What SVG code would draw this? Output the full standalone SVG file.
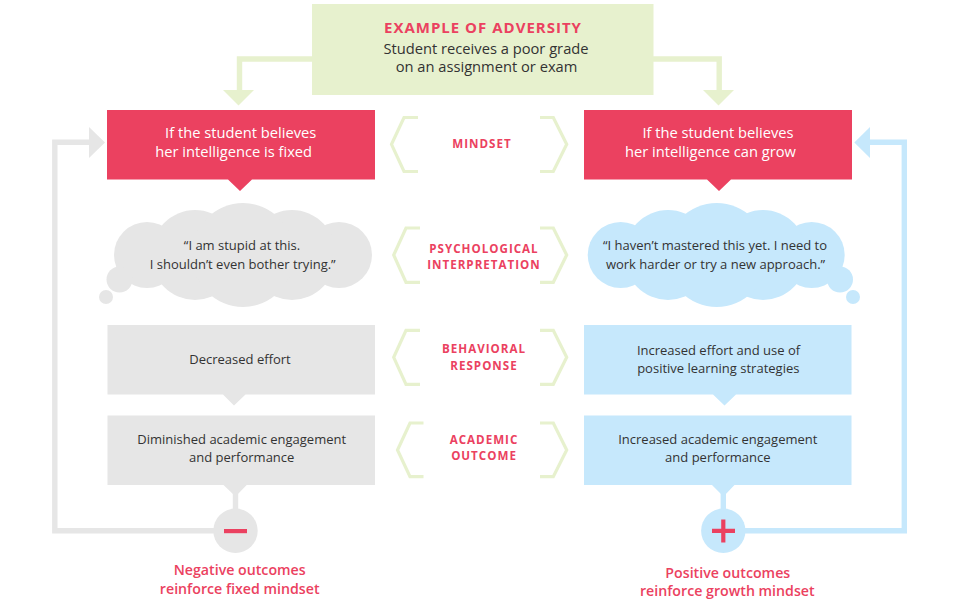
<svg xmlns="http://www.w3.org/2000/svg" width="960" height="600" viewBox="0 0 960 600">
<style>
text{font-family:"Open Sans","Noto Sans","Liberation Sans",sans-serif;text-anchor:middle;font-size:13px;fill:#333}
.h{font-size:14.700px;font-weight:500}
.w{fill:#fff;font-size:14.700px;font-weight:500}
.t{fill:#eb4160;font-size:15px;font-weight:700;letter-spacing:1px}
.l{fill:#eb4160;font-size:11.600px;font-weight:700;letter-spacing:1px}
.o{fill:#eb4160;font-size:14.200px;font-weight:600}
.c{fill:none;stroke-width:5.4}
.br{fill:none;stroke:#e7f1ce;stroke-width:3.2}
.red{fill:#eb4160}.grey{fill:#e6e6e6}.blue{fill:#c6e8fc}.green{fill:#e7f1ce}
</style>
<g id="connectors">
<path class="c" stroke="#e7f1ce" d="M312 59H239.500V92"/>
<path class="green" d="M223 90H254L238.500 105.500Z"/>
<path class="c" stroke="#e7f1ce" d="M653 59H719.200V92"/>
<path class="green" d="M703 90H734L718.500 105.500Z"/>
<path class="c" stroke="#e6e6e6" d="M215 530.800H54.800V142.300H91"/>
<path class="grey" d="M89 127V158L105 142.500Z"/>
<path class="c" stroke="#c6e8fc" d="M745 530.800H904.300V142.300H868"/>
<path class="blue" d="M870 127V158L854.300 142.500Z"/>
<path class="c" stroke="#e6e6e6" d="M235.500 490V512"/>
<path class="c" stroke="#c6e8fc" d="M723.300 490V512"/>
</g>
<g id="adversity">
<rect class="green" x="312" y="4" width="341.500" height="91"/>
<text class="t" x="483" y="33">EXAMPLE OF ADVERSITY</text>
<text class="h" x="486" y="53.500">Student receives a poor grade</text>
<text class="h" x="486.500" y="72">on an assignment or exam</text>
</g>
<g id="fixed-belief">
<path class="red" d="M107 110H375V179.500H252L240 191L228 179.500H107Z"/>
<text class="w" x="240.700" y="138">If the student believes</text>
<text class="w" x="233.700" y="157">her intelligence is fixed</text>
</g>
<g id="growth-belief">
<path class="red" d="M584 110H852V179.500H731L719 191L707 179.500H584Z"/>
<text class="w" x="718" y="138">If the student believes</text>
<text class="w" x="710.500" y="157">her intelligence can grow</text>
</g>
<g id="fixed-thought">
<g class="grey">
<circle cx="147" cy="255" r="33"/><circle cx="339" cy="255" r="33"/>
<ellipse cx="195" cy="255" rx="44" ry="45"/><ellipse cx="292" cy="255" rx="44" ry="45"/>
<ellipse cx="243" cy="255" rx="51" ry="52"/>
<rect x="147" y="235" width="192" height="40"/>
<circle cx="119.500" cy="279.500" r="13"/><circle cx="106" cy="297" r="7"/>
</g>
<text x="242" y="250">“I am stupid at this.</text>
<text x="242.700" y="268.500">I shouldn’t even bother trying.”</text>
</g>
<g id="growth-thought">
<g class="blue">
<circle cx="620.700" cy="255" r="33"/><circle cx="811.700" cy="255" r="33"/>
<ellipse cx="668" cy="255" rx="44" ry="45"/><ellipse cx="763" cy="255" rx="44" ry="45"/>
<ellipse cx="716.700" cy="255" rx="51" ry="52"/>
<rect x="620" y="235" width="192" height="40"/>
<circle cx="840" cy="279.500" r="13"/><circle cx="853" cy="297" r="7"/>
</g>
<text x="715" y="250">“I haven’t mastered this yet. I need to</text>
<text x="715.500" y="268.500">work harder or try a new approach.”</text>
</g>
<g id="fixed-response">
<path class="grey" d="M107.500 325H375V394.500H245.500L234 405.500L223 394.500H107.500Z"/>
<text x="240" y="364">Decreased effort</text>
</g>
<g id="growth-response">
<path class="blue" d="M584 325H851.500V394.500H736L724.500 405.500L713 394.500H584Z"/>
<text x="718.500" y="354.500">Increased effort and use of</text>
<text x="718.300" y="373">positive learning strategies</text>
</g>
<g id="fixed-outcome">
<path class="grey" d="M107.500 415.500H375V485H246.700L236 496H235L223.500 485H107.500Z"/>
<text x="241.700" y="443.500">Diminished academic engagement</text>
<text x="241.700" y="462">and performance</text>
</g>
<g id="growth-outcome">
<path class="blue" d="M584 415.500H851.500V485H734.500L724 496H723L712 485H584Z"/>
<text x="717.800" y="443.500">Increased academic engagement</text>
<text x="717.800" y="462">and performance</text>
</g>
<g id="negative">
<circle class="grey" cx="235.500" cy="530.800" r="22.200"/>
<rect class="red" x="224" y="529" width="23" height="4.200"/>
<text class="o" x="239.700" y="575">Negative outcomes</text>
<text class="o" x="239.700" y="593.500">reinforce fixed mindset</text>
</g>
<g id="positive">
<circle class="blue" cx="723.300" cy="530.800" r="22.200"/>
<path class="red" d="M712 528.700H721.200V519.500H725.400V528.700H735V532.900H725.400V542.500H721.200V532.900H712Z"/>
<text class="o" x="727.800" y="577.500">Positive outcomes</text>
<text class="o" x="727.300" y="596">reinforce growth mindset</text>
</g>
<g id="mindset-label">
<path class="br" d="M418 117.500H404L391.500 144.300L404 171.500H418"/>
<path class="br" d="M540 117.500H553.300L566.700 144.300L553.300 171.500H540"/>
<text class="l" x="482" y="148">MINDSET</text>
</g>
<g id="interpretation-label">
<path class="br" d="M420 228H406L393.700 255L406 282.300H420"/>
<path class="br" d="M540 228H553.300L566.700 255L553.300 282.300H540"/>
<text class="l" x="484" y="252.700">PSYCHOLOGICAL</text>
<text class="l" x="484" y="269">INTERPRETATION</text>
</g>
<g id="behavior-label">
<path class="br" d="M420 330.300H406L393.700 357.300L406 384.300H420"/>
<path class="br" d="M540 330.300H553.300L566.700 357.300L553.300 384.300H540"/>
<text class="l" x="484" y="353">BEHAVIORAL</text>
<text class="l" x="484" y="369.500">RESPONSE</text>
</g>
<g id="outcome-label">
<path class="br" d="M423.500 423H410L397.500 450L410 476.700H423.500"/>
<path class="br" d="M540 423H553.300L566.700 450L553.300 476.700H540"/>
<text class="l" x="484" y="443.700">ACADEMIC</text>
<text class="l" x="484" y="460">OUTCOME</text>
</g>
</svg>
